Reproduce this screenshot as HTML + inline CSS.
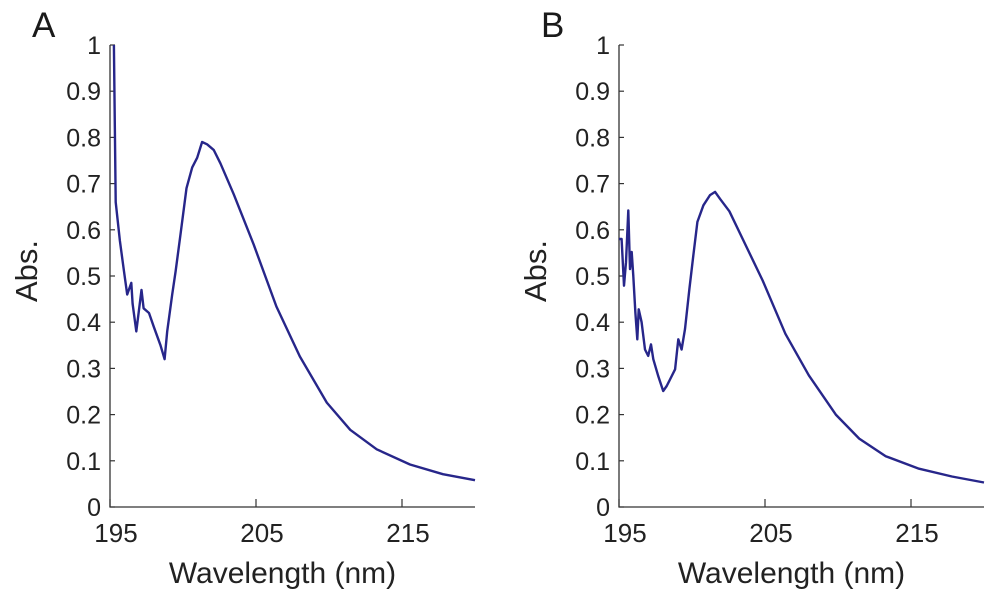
<!DOCTYPE html>
<html><head><meta charset="utf-8"><style>
html,body{margin:0;padding:0;background:#fff;}
svg{display:block;font-family:"Liberation Sans",Arial,sans-serif;}
</style></head><body>
<svg id="chart" width="1000" height="607" viewBox="0 0 1000 607"></svg>
<script>
const wlA=[195.27,195.39,195.68,195.96,196.18,196.46,196.55,196.8,197.16,197.3,197.67,198.0,198.46,198.74,198.92,199.26,199.49,199.83,200.24,200.63,200.97,201.31,201.65,202.1,202.56,203.47,204.84,206.4,208.0,209.85,211.45,213.27,215.55,217.8,220];
const absA=[1.0,0.66,0.576,0.51,0.46,0.485,0.44,0.38,0.47,0.43,0.42,0.39,0.35,0.32,0.38,0.46,0.51,0.59,0.69,0.735,0.756,0.79,0.785,0.773,0.744,0.677,0.568,0.434,0.326,0.226,0.167,0.125,0.092,0.071,0.058];
const wlB=[195.0,195.18,195.34,195.48,195.64,195.75,195.87,195.98,196.12,196.25,196.35,196.55,196.78,197.0,197.19,197.35,197.69,198.03,198.27,198.49,198.84,199.06,199.29,199.52,199.82,200.09,200.37,200.78,201.23,201.58,201.92,202.56,203.47,204.84,206.4,208.0,209.85,211.45,213.27,215.55,217.8,220];
const absB=[0.58,0.58,0.479,0.53,0.642,0.515,0.552,0.50,0.42,0.363,0.428,0.40,0.341,0.327,0.352,0.32,0.283,0.251,0.262,0.276,0.298,0.363,0.341,0.385,0.472,0.544,0.617,0.653,0.675,0.682,0.667,0.64,0.58,0.49,0.375,0.285,0.2,0.148,0.11,0.083,0.066,0.053];
const yTicks=[0,0.1,0.2,0.3,0.4,0.5,0.6,0.7,0.8,0.9,1];
const yTickLabels=["0","0.1","0.2","0.3","0.4","0.5","0.6","0.7","0.8","0.9","1"];
const xTicks=[195,205,215];
const xTickLabels=["195","205","215"];

const NS="http://www.w3.org/2000/svg";
const svg=document.getElementById('chart');
function mk(tag,attrs,parent){const e=document.createElementNS(NS,tag);for(const k in attrs)e.setAttribute(k,attrs[k]);(parent||svg).appendChild(e);return e;}

function panel(letter,x0,x1,wl,ab,key){
  const y0=507,y1=45;
  const g=mk('g',{});
  
  
  const sx=v=>x0+(v-195)/25*(x1-x0);
  const sy=v=>y0+(y1-y0)*v;
  const t=mk('text',{x:x0-78,y:37,'font-size':35,fill:'#1a1a1a'},g);t.textContent=letter;
  
  
  const ax=mk('path',{d:`M${x0} ${y1}V${y0}H${x1}`,stroke:'#333',fill:'none','stroke-width':1.3},g);
  
  
  yTicks.forEach((v,i)=>{
    const y=sy(v);
    mk('line',{x1:x0,x2:x0+5,y1:y,y2:y,stroke:'#333','stroke-width':1.2},g);
    const l=mk('text',{x:x0-9,y:y+9,'font-size':25,'text-anchor':'end',fill:'#222'},g);
    l.textContent=yTickLabels[i];
    
    
  });
  xTicks.forEach((v,i)=>{
    const x=sx(v);
    mk('line',{x1:x,x2:x,y1:y0,y2:y0-8,stroke:'#333','stroke-width':1.2},g);
    const l=mk('text',{x:x+6,y:y0+35,'font-size':26,'text-anchor':'middle',fill:'#222'},g);
    l.textContent=xTickLabels[i];
    
    
  });
  const xt=mk('text',{x:(x0+x1)/2-10,y:583,'font-size':30,'text-anchor':'middle',fill:'#222'},g);
  xt.textContent='Wavelength (nm)';
  
  
  const yt=mk('text',{x:0,y:0,'font-size':31,'text-anchor':'middle',fill:'#222',transform:`translate(${x0-73},271) rotate(-90)`},g);
  yt.textContent='Abs.';
  
  
  const d=wl.map((w,i)=>(i?'L':'M')+sx(w).toFixed(1)+' '+sy(ab[i]).toFixed(1)).join('');
  const p=mk('path',{d:d,stroke:'#27268a',fill:'none','stroke-width':2.4,'stroke-linejoin':'round'},g);
  
  
}
panel('A',110,475,wlA,absA,'a');
panel('B',619,984,wlB,absB,'b');
</script>
</body></html>
